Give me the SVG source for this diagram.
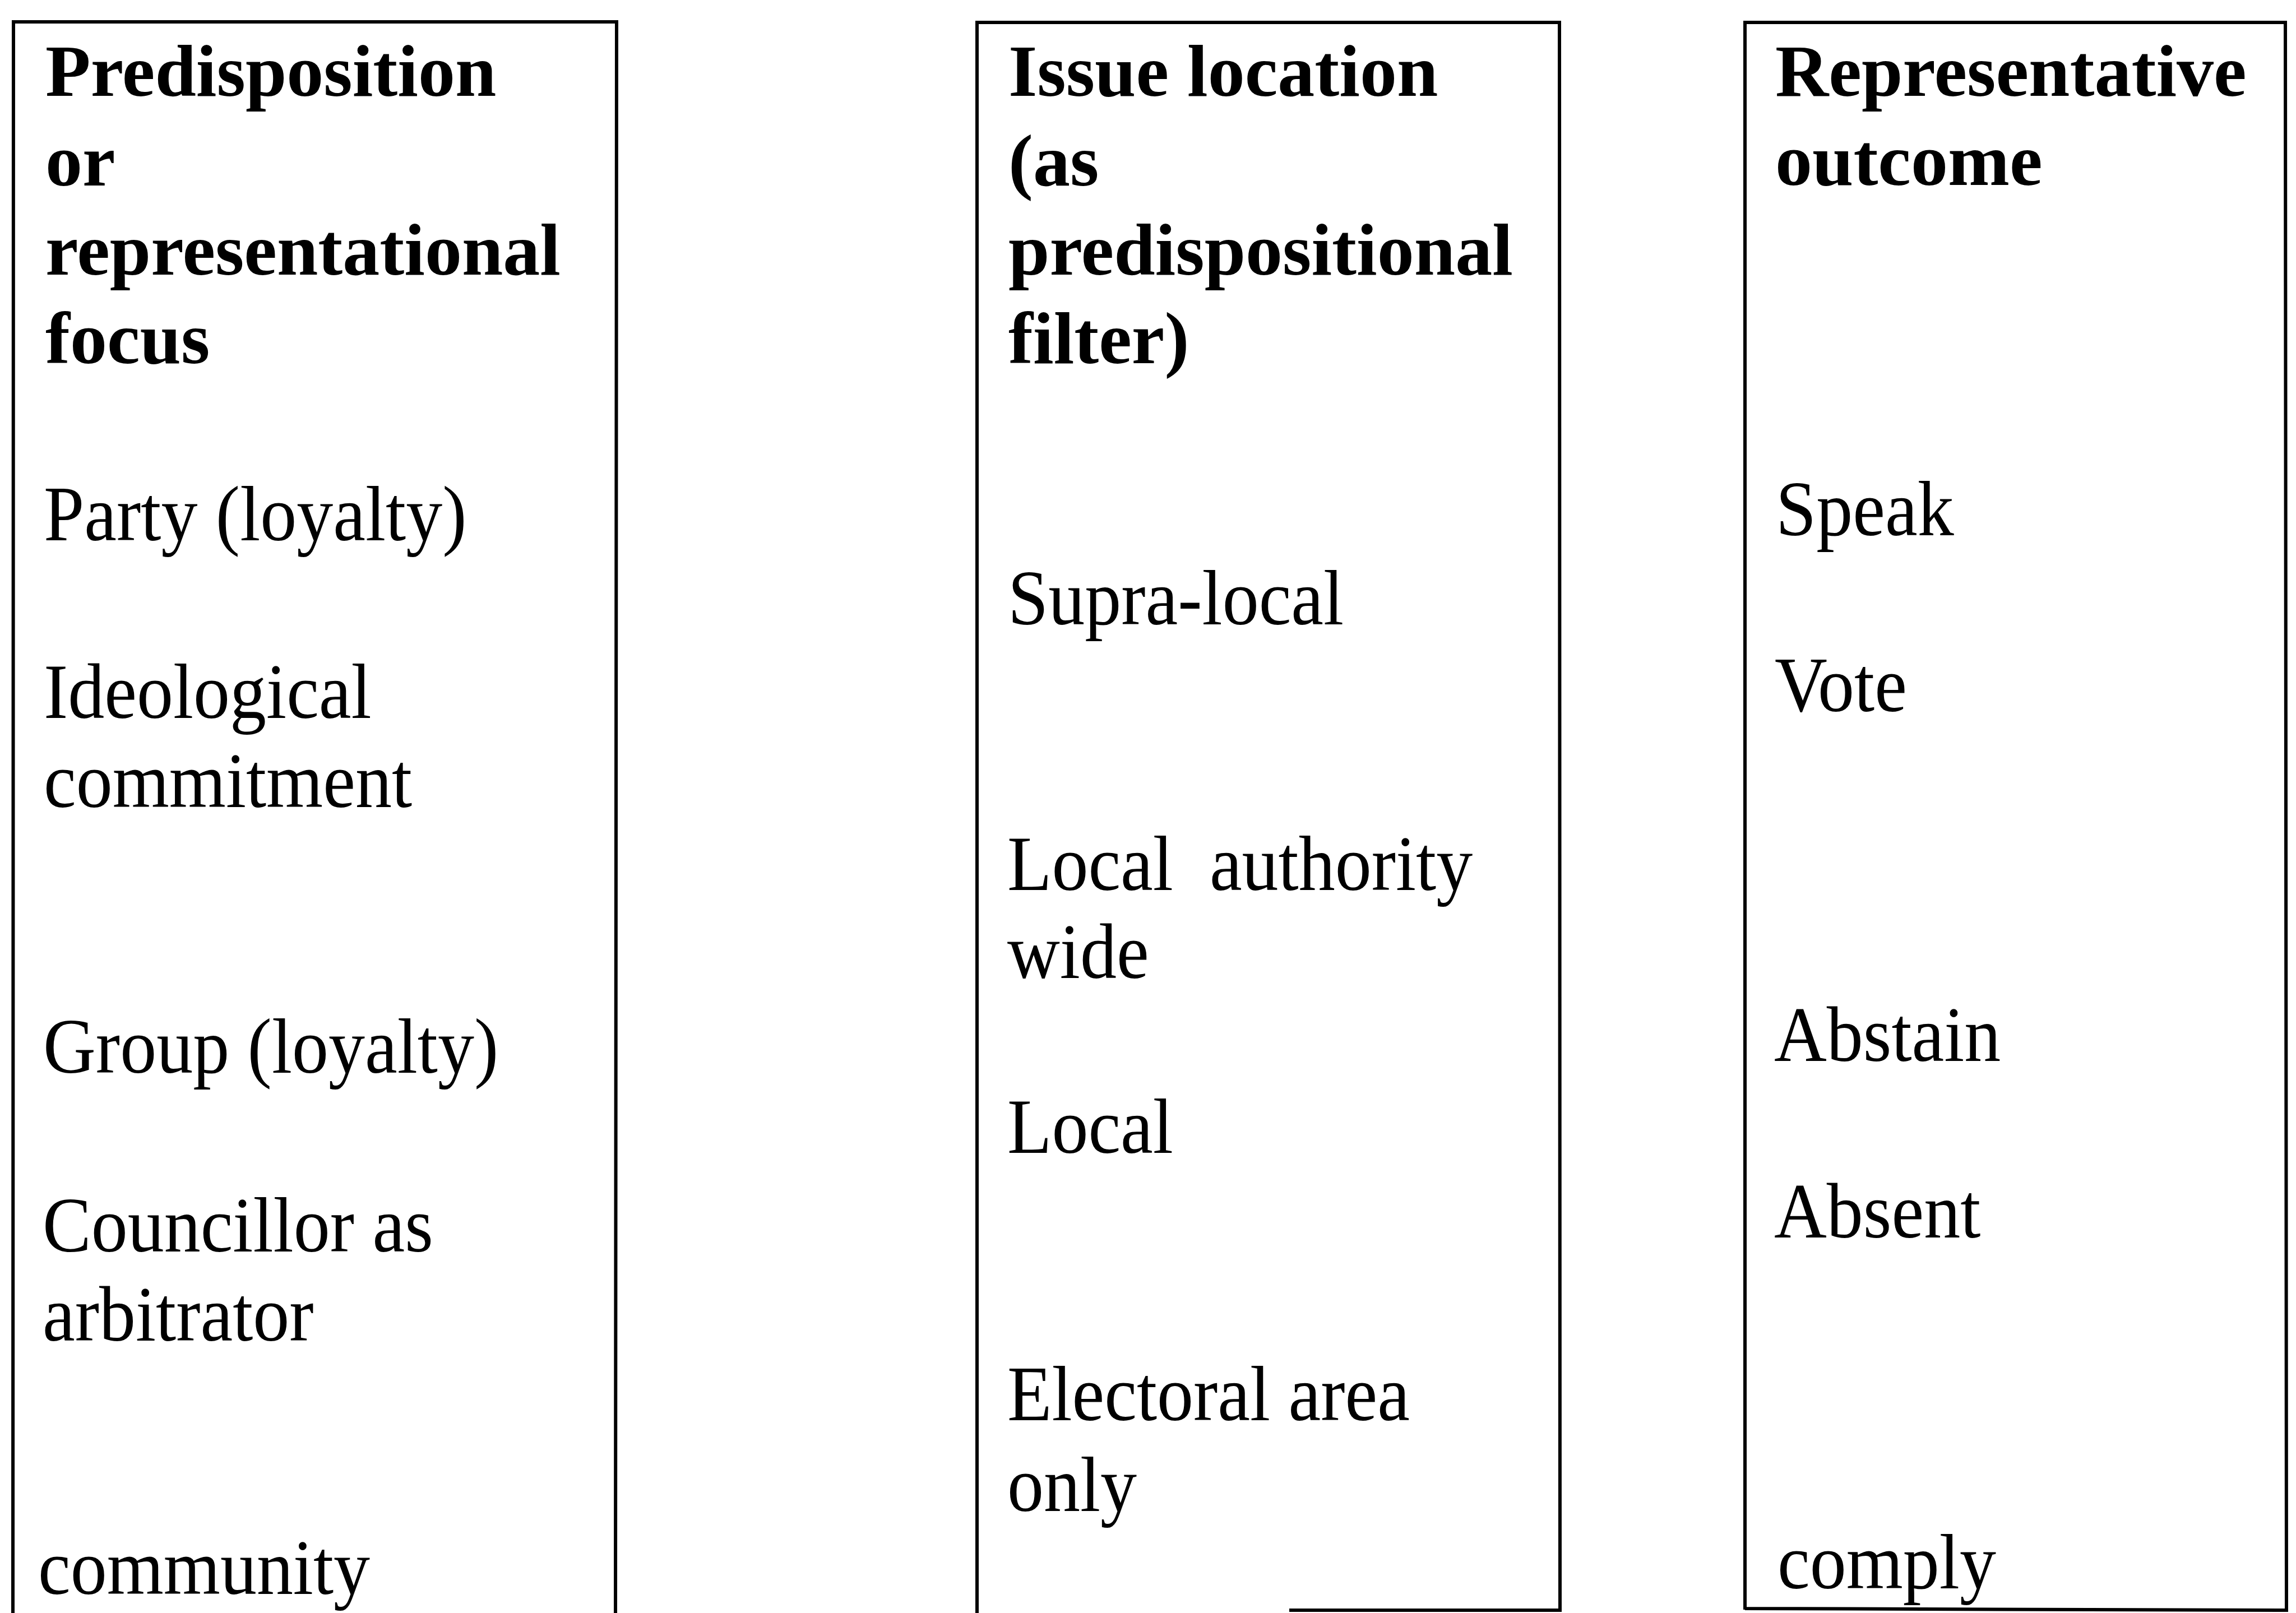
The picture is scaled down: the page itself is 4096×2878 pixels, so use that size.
<svg xmlns="http://www.w3.org/2000/svg" width="4096" height="2878" viewBox="0 0 4096 2878">
<style>
.box{fill:none;stroke:#000;stroke-width:6}
.h{font-family:"Liberation Serif","Times New Roman",serif;font-weight:bold;font-size:132px;fill:#000}
.t{font-family:"Liberation Serif","Times New Roman",serif;font-size:130px;fill:#000;white-space:pre}
</style>
<rect width="4096" height="2878" fill="#fff"/>
<g id="col1">
<path class="box" d="M23,2878 L24,39 L1100,39 L1098,2878"/>
<text class="h" x="81" y="171">Predisposition</text>
<text class="h" x="81" y="331">or</text>
<text class="h" x="81" y="490">representational</text>
<text class="h" x="81" y="648">focus</text>
<text class="t" transform="translate(78,964) scale(1,1.08)">Party (loyalty)</text>
<text class="t" transform="translate(78,1281) scale(1,1.08)">Ideological</text>
<text class="t" transform="translate(78,1440) scale(1,1.08)">commitment</text>
<text class="t" transform="translate(77,1914) scale(1,1.08)">Group (loyalty)</text>
<text class="t" transform="translate(76,2233) scale(1,1.08)">Councillor as</text>
<text class="t" transform="translate(76,2392) scale(1,1.08)">arbitrator</text>
<text class="t" transform="translate(68,2844) scale(1,1.08)">community</text>
</g>
<g id="col2">
<path class="box" d="M1743,2878 L1743,40 L2782,40 L2783,2873 L2300,2873"/>
<text class="h" x="1799" y="171">Issue location</text>
<text class="h" x="1799" y="331">(as</text>
<text class="h" x="1799" y="490">predispositional</text>
<text class="h" x="1799" y="648">filter)</text>
<text class="t" transform="translate(1798,1114) scale(1,1.08)">Supra-local</text>
<text class="t" transform="translate(1797,1588) scale(1,1.08)">Local  authority</text>
<text class="t" transform="translate(1797,1745) scale(1,1.08)">wide</text>
<text class="t" transform="translate(1797,2057) scale(1,1.08)">Local</text>
<text class="t" transform="translate(1797,2534) scale(1,1.08)">Electoral area</text>
<text class="t" transform="translate(1797,2696) scale(1,1.08)">only</text>
</g>
<g id="col3">
<path class="box" d="M3113,2872 L3113,40 L4077,40 L4079,2873 L3113,2870"/>
<text class="h" x="3167" y="171">Representative</text>
<text class="h" x="3167" y="330">outcome</text>
<text class="t" transform="translate(3168,955) scale(1,1.08)">Speak</text>
<text class="t" transform="translate(3166,1269) scale(1,1.08)">Vote</text>
<text class="t" transform="translate(3165,1893) scale(1,1.08)">Abstain</text>
<text class="t" transform="translate(3165,2208) scale(1,1.08)">Absent</text>
<text class="t" transform="translate(3171,2834) scale(1,1.08)">comply</text>
</g>
<g id="connectors"></g>
</svg>
